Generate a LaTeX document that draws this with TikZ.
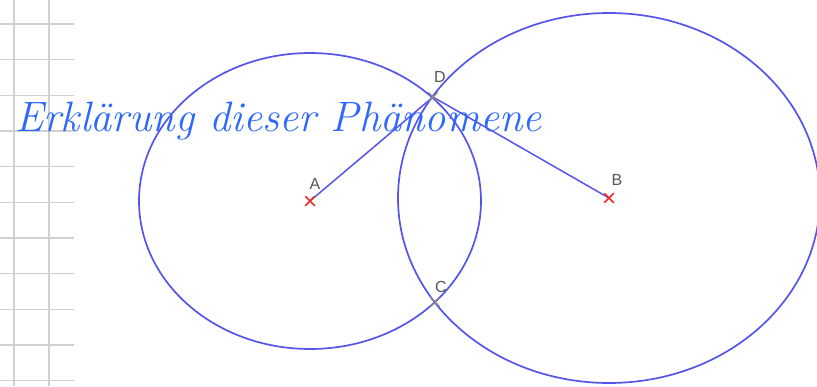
\documentclass[tikz,border=0pt]{standalone}
\usepackage{fontspec}
\setsansfont{Liberation Sans}
\usetikzlibrary{positioning,shapes.misc}
\definecolor{CircBlue}{RGB}{85,85,235}
\definecolor{InkBlue}{RGB}{45,105,250}
\definecolor{GridGray}{RGB}{208,208,208}
\definecolor{MarkRed}{RGB}{240,40,40}
\definecolor{LabelGray}{RGB}{85,85,85}
\tikzset{
  gridline/.style={draw=GridGray,line width=1.4pt},
  circ/.style={draw=CircBlue,line width=1.7pt},
  chord/.style={draw=CircBlue,line width=1.5pt},
  ptmark/.style={cross out,draw=MarkRed,line width=1.5pt,minimum size=8pt,inner sep=0pt},
  cutmark/.style={cross out,draw=LabelGray!70,line width=1.2pt,minimum size=8pt,inner sep=0pt},
  lbl/.style={font=\sffamily\fontsize{16}{16}\selectfont,text=LabelGray,inner sep=0pt},
  ink/.style={font=\itshape\fontsize{42.5}{42.5}\selectfont,text=InkBlue,inner sep=0pt},
}
\begin{document}
\begin{tikzpicture}[x=1pt,y=-1pt]
\useasboundingbox (0,0) rectangle (817,386);
% squared paper at the left edge
\foreach \gx in {14,49}
  \draw[gridline] (\gx,0) -- (\gx,386);
\foreach \k in {0,...,10}
  \draw[gridline] (0,{24+35.65*\k}) -- (74,{24+35.65*\k});
\coordinate (pA) at (310,201);
\coordinate (pB) at (609,198);
\coordinate (pD) at (433,97);
\coordinate (pC) at (435,302);
\draw[circ] (pA) ellipse [x radius=171pt,y radius=148pt];
\draw[circ] (pB) ellipse [x radius=211pt,y radius=185pt];
\draw[chord] (pA) -- (pD);
\draw[chord] (pD) -- (pB);
\node[ink,anchor=base west] (title) at (15,131) {Erklärung dieser Phänomene};
\node[ptmark] (mA) at (pA) {};
\node[ptmark] (mB) at (pB) {};
\node[cutmark] (mD) at (pD) {};
\node[cutmark] (mC) at (pC) {};
\node[lbl,above=11pt of pA,xshift=5pt] (labA) {A};
\node[lbl,above=12pt of pB,xshift=8pt] (labB) {B};
\node[lbl,above=14pt of pD,xshift=7pt] (labD) {D};
\node[lbl,above=9pt of pC,xshift=6pt] (labC) {C};
\end{tikzpicture}
\end{document}
